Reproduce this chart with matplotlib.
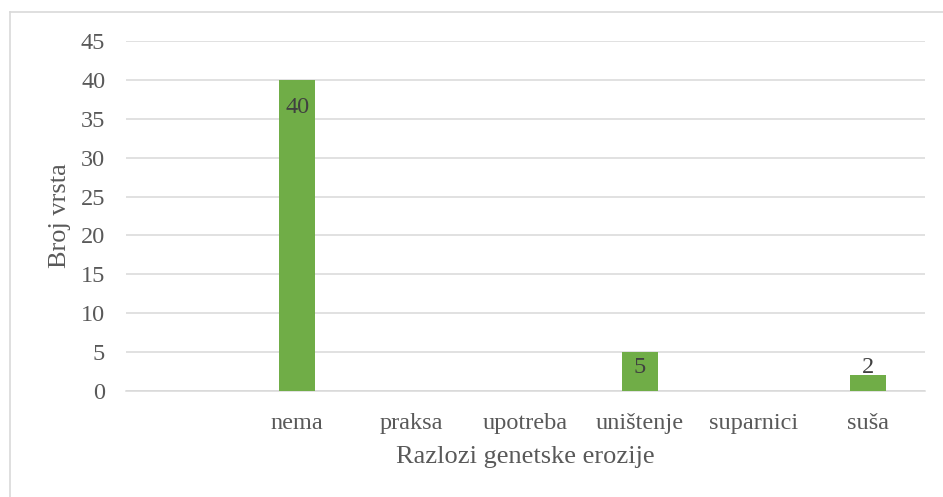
import matplotlib
matplotlib.use("Agg")
import matplotlib.pyplot as plt
from matplotlib.lines import Line2D
import numpy as np

categories = ["", "nema", "praksa", "upotreba", "uništenje", "suparnici", "suša"]
values = [None, 40, None, None, 5, None, 2]
y_ticks = [0, 5, 10, 15, 20, 25, 30, 35, 40, 45]
x_title = "Razlozi genetske erozije"
y_title = "Broj vrsta"

plt.rcParams["font.family"] = ["Liberation Serif", "DejaVu Serif"]

W, H = 943, 497
fig = plt.figure(figsize=(W / 100, H / 100), dpi=100)
left, right, top, bottom = 126, 925, 41, 391
ax = fig.add_axes([left / W, 1 - bottom / H, (right - left) / W, (bottom - top) / H])

grid_c = "#d9d9d9"
bar_c = "#70ad47"
tick_c = "#595959"
lab_c = "#404040"

x = np.arange(len(categories))
for i, v in enumerate(values):
    if v is None:
        continue
    ax.bar(x[i], v, width=0.316, color=bar_c, zorder=3)
    ly = max(v - 3.6, 3.0)
    ax.text(x[i], ly, str(v), ha="center", va="center", fontsize=17.5,
            color=lab_c, zorder=4)

ax.set_xlim(-0.5, len(categories) - 0.5)
ax.set_ylim(y_ticks[0], y_ticks[-1])
ax.set_yticks(y_ticks)
ax.set_xticks(x)
ax.set_xticklabels(categories)
ax.yaxis.grid(True, color=grid_c, linewidth=1.1, zorder=0)
ax.set_axisbelow(True)
for s in ["left", "right", "top"]:
    ax.spines[s].set_visible(False)
ax.spines["bottom"].set_color(grid_c)
ax.spines["bottom"].set_linewidth(1.1)
ax.spines["bottom"].set_zorder(2)
ax.tick_params(axis="both", length=0, labelsize=17.5, labelcolor=tick_c)
ax.tick_params(axis="y", pad=15)
ax.tick_params(axis="x", pad=16)

ax.set_xlabel(x_title, fontsize=19, color=tick_c)
ax.set_ylabel(y_title, fontsize=19, color=tick_c)
ax.xaxis.set_label_coords(0.5, (bottom - 457) / (bottom - top))
ax.yaxis.set_label_coords((60 - left) / (right - left), 0.5)
ax.xaxis.label.set_va("center")
ax.yaxis.label.set_va("center")

# outer chart border (top and left visible)
fig.add_artist(Line2D([10 / W, 1.0], [1 - 11.5 / H, 1 - 11.5 / H],
                      transform=fig.transFigure, color=grid_c, linewidth=1.2))
fig.add_artist(Line2D([10 / W, 10 / W], [0.0, 1 - 11.5 / H],
                      transform=fig.transFigure, color=grid_c, linewidth=1.2))

fig.savefig("out.png", dpi=100, facecolor="white")
